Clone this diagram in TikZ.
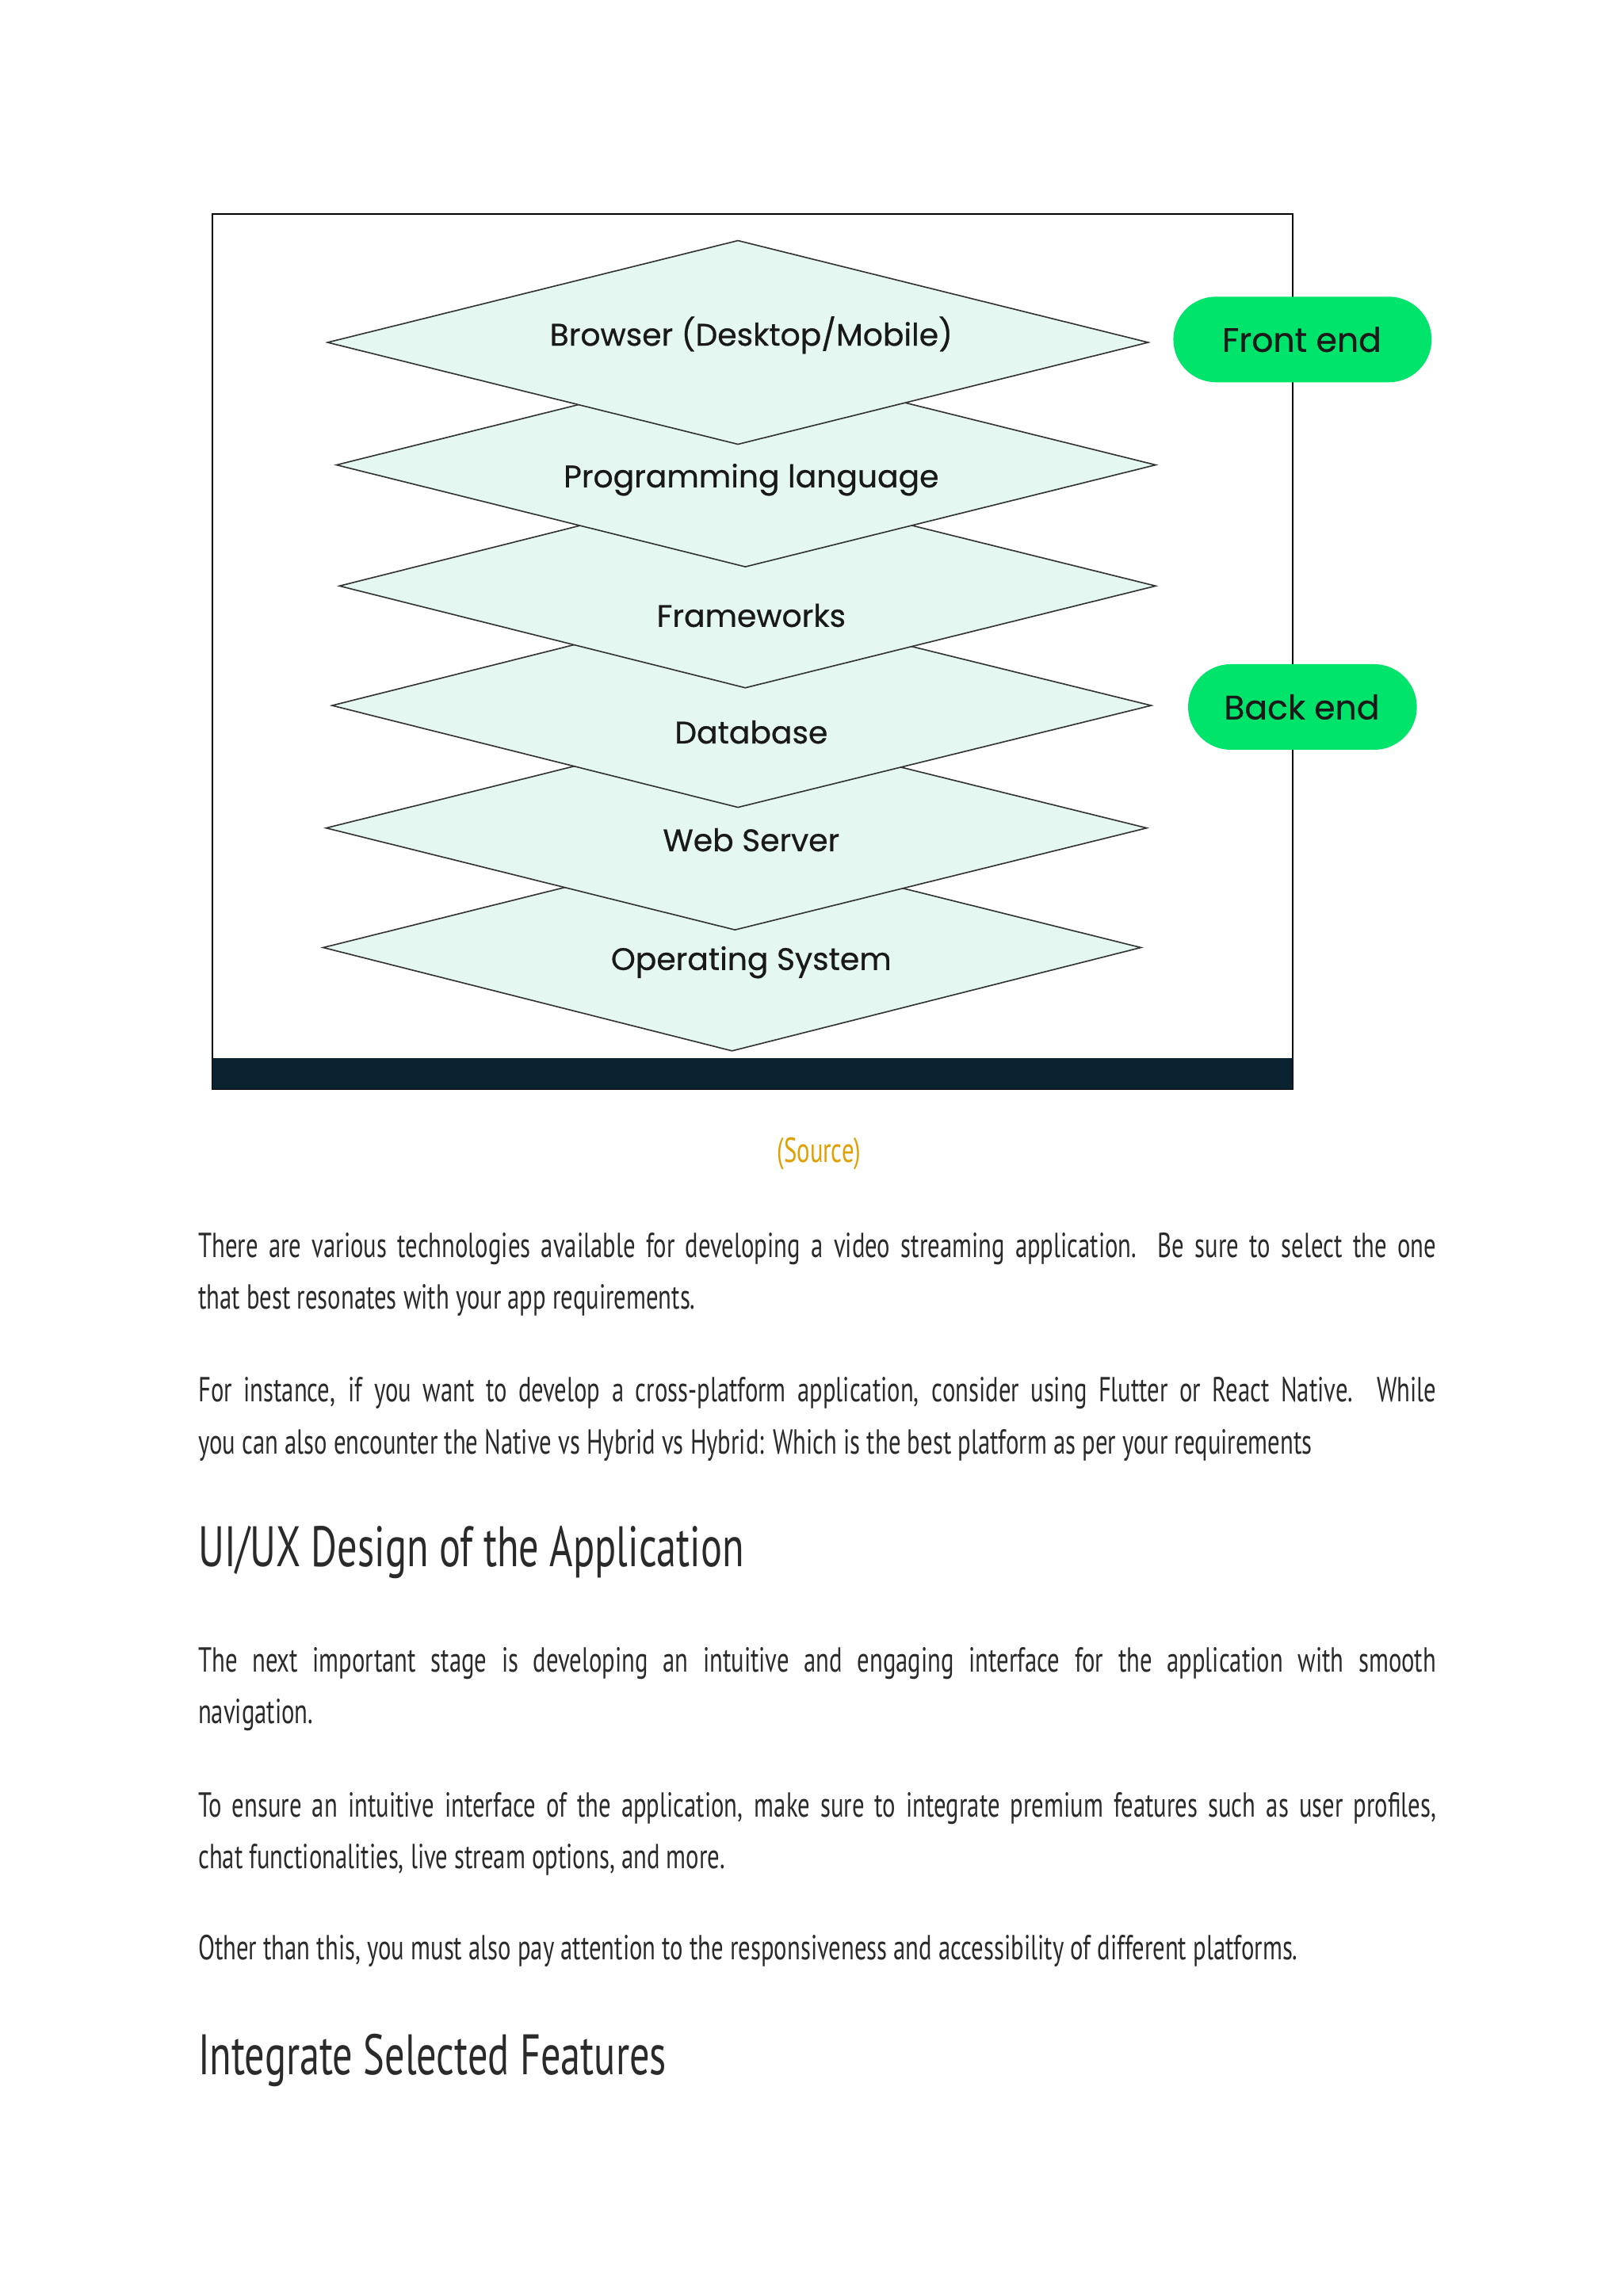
\documentclass[tikz,border=0pt]{standalone}
\usepackage{fontspec}
\setmainfont{PT Sans}
\newfontfamily\dia[FakeBold=0.6]{Poppins}
\newfontfamily\bodyf[FakeStretch=0.7]{PT Sans}
\definecolor{mint}{HTML}{E4F8F1}
\definecolor{pill}{HTML}{00E46C}
\definecolor{bar}{HTML}{0B2230}
\definecolor{src}{HTML}{E0A000}
\definecolor{txt}{HTML}{2A2A2A}
\tikzset{
 layer/.style={draw=black!80,fill=mint,line width=0.5pt},
 lbl/.style={font=\dia\fontsize{12}{14}\selectfont,text=black!90},
 pillbox/.style={fill=pill,rounded corners=0.58cm},
 line/.style={anchor=west,inner sep=0,font=\bodyf\fontsize{13.4}{16}\selectfont,text=txt},
 head/.style={anchor=west,inner sep=0,font=\bodyf\fontsize{22}{26}\selectfont,text=txt},
}
\newcommand{\jline}[1]{\makebox[16.78cm][s]{#1}}
\begin{document}
\begin{tikzpicture}[x=0.02cm,y=-0.02cm]
\useasboundingbox (0,0) rectangle (1100,1553.6);
\fill[white] (0,0) rectangle (1100,1553.6);
\draw[line width=0.7pt] (144,145) rectangle (876,738);
\fill[bar] (144,717) rectangle (876,738);
% diamonds bottom first
\draw[layer] (219,642)--(496,573)--(773,642)--(496,712)--cycle;
\draw[layer] (221,561)--(498,492)--(777,561)--(498,630)--cycle;
\draw[layer] (225,478)--(500,409)--(780,478)--(500,547)--cycle;
\draw[layer] (230,397)--(505,328)--(783,397)--(505,466)--cycle;
\draw[layer] (228,315)--(505,246)--(783,315)--(505,384)--cycle;
\draw[layer] (222,232)--(500,163)--(778,232)--(500,301)--cycle;
\node[lbl] (l1) at (509,227) {Browser (Desktop/Mobile)};
\node[lbl] (l2) at (509,325) {Programming language};
\node[lbl] (l3) at (509,417) {Frameworks};
\node[lbl] (l4) at (509,496) {Database};
\node[lbl] (l5) at (509,569) {Web Server};
\node[lbl] (l6) at (509,652) {Operating System};
\fill[pillbox] (795,201) rectangle (970,259);
\node[lbl,font=\dia\fontsize{13}{15}\selectfont] (fe) at (882,230) {Front end};
\fill[pillbox] (805,450) rectangle (960,508);
\node[lbl,font=\dia\fontsize{13}{15}\selectfont] (be) at (882,479) {Back end};
\node[font=\bodyf\fontsize{13.4}{16}\selectfont,text=src] (s) at (555,782) {(Source)};
\node[line] (p1) at (134,846) {\jline{There are various technologies available for developing a video streaming application. Be sure to select the one}};
\node[line] (p2) at (134,881) {that best resonates with your app requirements.};
\node[line] (p3) at (134,944) {\jline{For instance, if you want to develop a cross-platform application, consider using Flutter or React Native. While}};
\node[line] (p4) at (134,979) {you can also encounter the Native vs Hybrid vs Hybrid: Which is the best platform as per your requirements};
\node[head] (h1) at (134,1052) {UI/UX Design of the Application};
\node[line] (p5) at (134,1127) {\jline{The next important stage is developing an intuitive and engaging interface for the application with smooth}};
\node[line] (p6) at (134,1162) {navigation.};
\node[line] (p7) at (134,1225) {\jline{To ensure an intuitive interface of the application, make sure to integrate premium features such as user profiles,}};
\node[line] (p8) at (134,1260) {chat functionalities, live stream options, and more.};
\node[line] (p9) at (134,1322) {Other than this, you must also pay attention to the responsiveness and accessibility of different platforms.};
\node[head] (h2) at (134,1396) {Integrate Selected Features};
\end{tikzpicture}
\end{document}
